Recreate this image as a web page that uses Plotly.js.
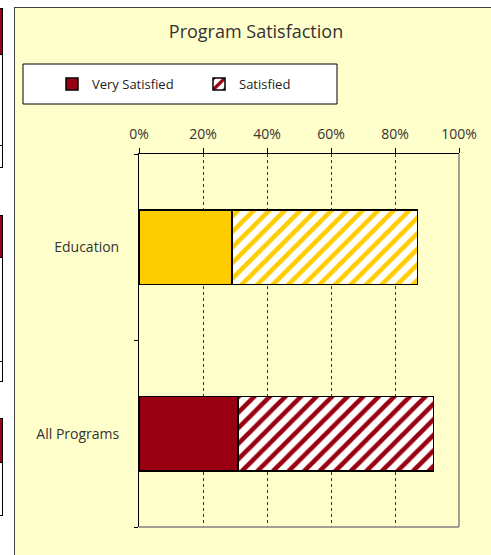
<!DOCTYPE html>
<html>
<head>
<meta charset="utf-8">
<script src="https://cdn.plot.ly/plotly-3.0.1.min.js"></script>
<style>
  html, body { margin:0; padding:0; width:491px; height:555px; overflow:hidden; background:#fff; }
  .rem { position:absolute; box-sizing:border-box; }
  #frame { position:absolute; left:14px; top:7px; width:500px; height:570px; border:1px solid #444; background:#FFFFCC; box-sizing:border-box; }
  #chart { position:absolute; left:15px; top:8px; width:476px; height:547px; }
</style>
</head>
<body>
<!-- remnants of neighbouring charts at the left edge -->
<div class="rem" style="left:-10px;top:8px;width:13px;height:47px;background:#990012;border:1px solid #000;"></div>
<div class="rem" style="left:-10px;top:55px;width:13px;height:91px;border:1px solid #000;border-top:none;"></div>
<div class="rem" style="left:-10px;top:145px;width:13px;height:23px;border:1px solid #000;"></div>
<div class="rem" style="left:-10px;top:215px;width:13px;height:43px;background:#990012;border:1px solid #000;"></div>
<div class="rem" style="left:-10px;top:257px;width:13px;height:105px;border:1px solid #000;border-top:none;"></div>
<div class="rem" style="left:-10px;top:361px;width:13px;height:21px;border:1px solid #000;"></div>
<div class="rem" style="left:-10px;top:418px;width:13px;height:45px;background:#990012;border:1px solid #000;"></div>
<div class="rem" style="left:-10px;top:462px;width:13px;height:54px;border:1px solid #000;border-top:none;"></div>
<div id="frame"></div>
<div id="chart"></div>
<script>
const categories = ['All Programs', 'Education'];
const verySatisfied = [0.31, 0.29];
const satisfied = [0.61, 0.58];
const seriesNames = ['Very Satisfied', 'Satisfied'];
const barColors = ['#990012', '#FFCC00'];
const tickVals = [0, 0.2, 0.4, 0.6, 0.8, 1.0];
const tickText = ['0%', '20%', '40%', '60%', '80%', '100%'];

const FONT = '"Open Sans", Lato, sans-serif';
const W = 476, H = 547;
const M = {l:124, r:32, t:146, b:28};
const pw = W - M.l - M.r, ph = H - M.t - M.b;
const px = x => (x - M.l) / pw;
const py = y => (H - M.b - y) / ph;

const traces = [
  {
    type:'bar', orientation:'h', name: seriesNames[0],
    y: categories, x: verySatisfied,
    marker: { color: barColors, line: {color:'#000', width:1.5} },
    hoverinfo:'skip'
  },
  {
    type:'bar', orientation:'h', name: seriesNames[1],
    y: categories, x: satisfied,
    marker: {
      color: '#FFFFFF',
      line: {color:'#000', width:1.5},
      pattern: { shape:'/', fgcolor: barColors, bgcolor:'#FFFFFF', fillmode:'overlay', fgopacity:1, size:11, solidity:0.42 }
    },
    hoverinfo:'skip'
  }
];

const layout = {
  width: W, height: H,
  margin: M,
  paper_bgcolor: 'rgba(0,0,0,0)',
  plot_bgcolor: 'rgba(0,0,0,0)',
  barmode: 'stack',
  bargap: 0.6,
  font: {family: FONT, size: 12, color: '#333'},
  title: {
    text: 'Program Satisfaction',
    font: {family: FONT, size: 18, color: '#333'},
    xref: 'container', x: 241 / W, xanchor: 'center',
    yref: 'container', y: 1 - 24 / H, yanchor: 'middle'
  },
  showlegend: true,
  legend: {
    orientation: 'h',
    x: px(37), xanchor: 'left',
    y: py(76), yanchor: 'middle',
    bgcolor: 'rgba(0,0,0,0)', borderwidth: 0,
    font: {family: FONT, size: 13, color: '#222'},
    entrywidth: 102, entrywidthmode: 'pixels',
    traceorder: 'normal'
  },
  xaxis: {
    side: 'top', range: [0, 1],
    tickvals: tickVals, ticktext: tickText,
    showline: true, linecolor: '#000', linewidth: 1,
    ticks: 'outside', ticklen: 5, tickcolor: '#000', tickwidth: 1,
    ticklabelstandoff: 3,
    showgrid: true, gridcolor: '#333', griddash: 'dot', gridwidth: 1,
    zeroline: false, fixedrange: true,
    tickfont: {family: FONT, size: 14, color: '#333'}
  },
  yaxis: {
    type: 'category',
    showline: true, linecolor: '#000', linewidth: 1,
    ticks: 'outside', ticklen: 4, tickcolor: '#000', tickson: 'boundaries',
    ticklabelstandoff: 16,
    showgrid: false, zeroline: false, fixedrange: true,
    tickfont: {family: FONT, size: 14, color: '#333'}
  },
  shapes: [
    {type:'rect', xref:'paper', yref:'paper', x0: px(8), x1: px(322), y0: py(96), y1: py(56),
     fillcolor:'#FFFFFF', line:{color:'#000', width:1}, layer:'below'},
    {type:'line', xref:'paper', yref:'paper', x0:1, x1:1, y0:0, y1:1, line:{color:'#808080', width:1.5}},
    {type:'line', xref:'paper', yref:'paper', x0:0, x1:1, y0:0, y1:0, line:{color:'#808080', width:1.5}}
  ]
};

Plotly.newPlot('chart', traces, layout, {displayModeBar:false, staticPlot:true});
</script>
</body>
</html>
